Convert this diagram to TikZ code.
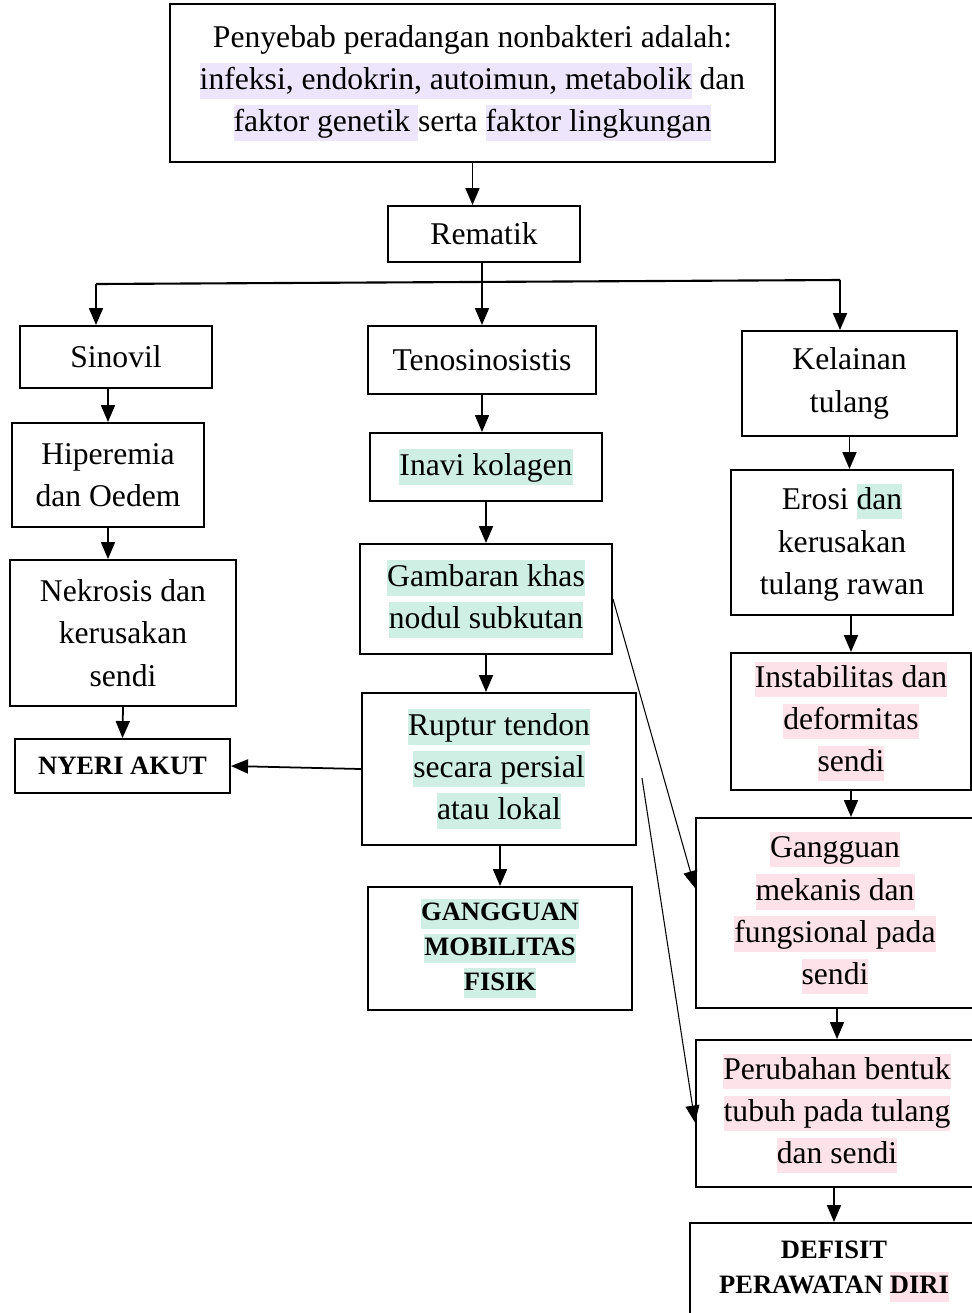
\documentclass[tikz,border=0pt]{standalone}
\usepackage{fontspec}
\setmainfont{Liberation Serif}
\usepackage{xcolor}
\usepackage{tikz}
\usetikzlibrary{arrows.meta}
\definecolor{lavhl}{RGB}{236,229,252}
\definecolor{minthl}{RGB}{207,239,229}
\definecolor{pinkhl}{RGB}{253,226,233}
\newcommand{\hlstrut}{\rule[-0.3em]{0pt}{1.12em}}
\newcommand{\hlpur}[1]{{\setlength{\fboxsep}{0pt}\colorbox{lavhl}{\hlstrut#1}}}
\newcommand{\hlmint}[1]{{\setlength{\fboxsep}{0pt}\colorbox{minthl}{\hlstrut#1}}}
\newcommand{\hlpink}[1]{{\setlength{\fboxsep}{0pt}\colorbox{pinkhl}{\hlstrut#1}}}
\tikzstyle{box}       = [rectangle, draw=black, line width=1.1pt, inner sep=0pt, text centered, font=\fontsize{18}{24}\selectfont]
\tikzstyle{boldbox}   = [box, font=\fontsize{15.1}{19.8}\selectfont\bfseries]
\tikzstyle{arrow}     = [line width=1pt, -{Triangle[length=0.34cm,width=0.28cm]}]
\tikzstyle{thinarrow} = [line width=0.6pt, -{Triangle[length=0.34cm,width=0.28cm]}]
\tikzset{every node/.style={align=center}}

\begin{document}
\begin{tikzpicture}
    \useasboundingbox (0,0) rectangle (19.44,-26.26);
    \clip (0,0) rectangle (19.44,-26.26);

    \node (top) at ( 9.45, -1.66)  [box, minimum width=12.10cm, minimum height=3.16cm] {Penyebab peradangan nonbakteri adalah:\\\hlpur{infeksi, endokrin, autoimun, metabolik} dan\\\hlpur{faktor genetik\ }serta \hlpur{faktor lingkungan}};
    \node (rem) at ( 9.68, -4.68)  [box, minimum width=3.84cm, minimum height=1.12cm] {Rematik};

    \node (sin) at ( 2.32, -7.14)  [box, minimum width=3.84cm, minimum height=1.24cm] {Sinovil};
    \node (hip) at ( 2.16, -9.50)  [box, minimum width=3.84cm, minimum height=2.08cm] {Hiperemia\\dan Oedem};
    \node (nek) at ( 2.46, -12.66) [box, minimum width=4.52cm, minimum height=2.92cm] {Nekrosis dan\\kerusakan\\sendi};
    \node (nye) at ( 2.45, -15.32) [boldbox, minimum width=4.30cm, minimum height=1.08cm] {NYERI AKUT};

    \node (teno) at ( 9.64, -7.20) [box, minimum width=4.56cm, minimum height=1.36cm] {Tenosinosistis};
    \node (ina)  at ( 9.72, -9.34) [box, minimum width=4.64cm, minimum height=1.36cm] {\hlmint{Inavi kolagen}};
    \node (gam)  at ( 9.72, -11.98) [box, minimum width=5.04cm, minimum height=2.20cm] {\hlmint{Gambaran khas}\\\hlmint{nodul subkutan}};
    \node (rup)  at ( 9.98, -15.38) [box, minimum width=5.48cm, minimum height=3.04cm] {\hlmint{Ruptur tendon}\\\hlmint{secara persial}\\\hlmint{atau lokal}};
    \node (gmf)  at (10.00, -18.97) [boldbox, minimum width=5.28cm, minimum height=2.46cm] {\hlmint{GANGGUAN}\\\hlmint{MOBILITAS}\\\hlmint{FISIK}};

    \node (kel) at (16.99, -7.67)  [box, minimum width=4.30cm, minimum height=2.10cm] {Kelainan\\tulang};
    \node (ero) at (16.84, -10.85) [box, minimum width=4.44cm, minimum height=2.90cm] {Erosi \hlmint{dan}\\kerusakan\\tulang rawan};
    \node (ins) at (17.02, -14.43) [box, minimum width=4.80cm, minimum height=2.74cm] {\hlpink{Instabilitas dan}\\\hlpink{deformitas}\\\hlpink{sendi}};
    \node (gmk) at (16.70, -18.26) [box, minimum width=5.56cm, minimum height=3.80cm] {\hlpink{Gangguan}\\\hlpink{mekanis dan}\\\hlpink{fungsional pada}\\\hlpink{sendi}};
    \node (per) at (16.74, -22.27) [box, minimum width=5.64cm, minimum height=2.94cm] {\hlpink{Perubahan bentuk}\\\hlpink{tubuh pada tulang}\\\hlpink{dan sendi}};
    \node (def) at (16.68, -25.43) [boldbox, minimum width=5.76cm, minimum height=1.94cm] {DEFISIT\\PERAWATAN \hlpink{DIRI}};

    \coordinate (bl) at ( 1.92, -5.68);
    \coordinate (br) at (16.80, -5.60);

    \draw [arrow] (top.south) -- (top.south |- rem.north);
    \draw [arrow] (teno.north |- rem.south) -- (teno.north);
    \draw [line width=1.2pt] (bl) -- (br);
    \draw [arrow] (bl) -- (bl |- sin.north);
    \draw [arrow] (br) -- (br |- kel.north);

    \draw [arrow] (hip.north |- sin.south) -- (hip.north);
    \draw [arrow] (hip.south) -- (hip.south |- nek.north);
    \draw [arrow] (nek.south) -- (nye.north);

    \draw [arrow] (teno.south) -- (teno.south |- ina.north);
    \draw [arrow] (ina.south) -- (gam.north);
    \draw [arrow] (gam.south) -- (gam.south |- rup.north);
    \draw [arrow] (gmf.north |- rup.south) -- (gmf.north);
    \draw [arrow] (rup.west) -- (nye.east);

    \draw [arrow] (kel.south) -- (kel.south |- ero.north);
    \draw [arrow] (ins.north |- ero.south) -- (ins.north);
    \draw [arrow] (ins.south) -- (ins.south |- gmk.north);
    \draw [arrow] (per.north |- gmk.south) -- (per.north);
    \draw [arrow] (def.north |- per.south) -- (def.north);

    \draw [thinarrow] (gam.east) -- ([yshift=0.5cm]gmk.west);
    \draw [thinarrow] ([xshift=0.1cm,yshift=-0.18cm]rup.east) -- ([yshift=-0.18cm]per.west);
\end{tikzpicture}
\end{document}
